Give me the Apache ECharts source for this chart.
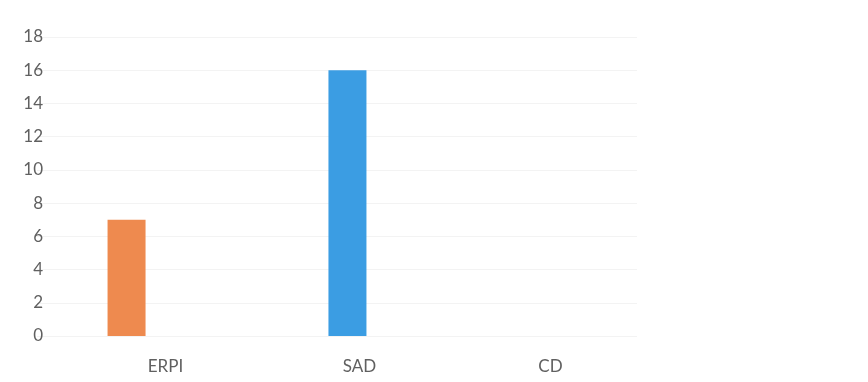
<!DOCTYPE html>
<html>
<head>
<meta charset="utf-8">
<script src="https://cdn.jsdelivr.net/npm/echarts@6/dist/echarts.min.js"></script>
<style>
html,body{margin:0;padding:0;background:#fff;}
#c{width:868px;height:382px;}
</style>
</head>
<body>
<div id="c"></div>
<script>
var categories = ['ERPI', 'SAD', 'CD'];
var values = [7, 16, 0];
var barColors = ['#EE8A4F', '#3B9DE3', '#A5A5A5'];
var yTicks = [0, 2, 4, 6, 8, 10, 12, 14, 16, 18];

var labelShift = { ERPI: 57, SAD: 45, CD: 27 };

// one series per category so each bar can sit at its own offset like the original
var series = categories.map(function (cat, ci) {
  return {
    type: 'bar',
    name: cat,
    barWidth: 38,
    barGap: '-45%',
    itemStyle: { color: barColors[ci] },
    data: values.map(function (v, i) { return i === ci ? v : '-'; })
  };
}).filter(function (s, ci) { return values[ci] !== 0; });

var rich = {};
categories.forEach(function (c) {
  rich[c] = { color: '#606060', fontFamily: 'Lato', fontSize: 17, padding: [0, 0, 0, labelShift[c]] };
});

var chart = echarts.init(document.getElementById('c'));
chart.setOption({
  animation: false,
  backgroundColor: '#ffffff',
  grid: { left: 37, right: 231, top: 37, bottom: 46 },
  xAxis: {
    type: 'category',
    data: categories,
    axisLine: { show: false },
    axisTick: { show: false },
    axisLabel: {
      margin: 22,
      formatter: function (v) { return '{' + v + '|' + v + '}'; },
      rich: rich
    }
  },
  yAxis: {
    type: 'value',
    min: yTicks[0],
    max: yTicks[yTicks.length - 1],
    interval: 2,
    axisLine: { show: false },
    axisTick: { show: false },
    splitLine: { lineStyle: { color: '#f3f3f3', width: 1 } },
    axisLabel: { color: '#606060', fontFamily: 'Lato', fontSize: 17, margin: -6 }
  },
  series: series
});
</script>
</body>
</html>
